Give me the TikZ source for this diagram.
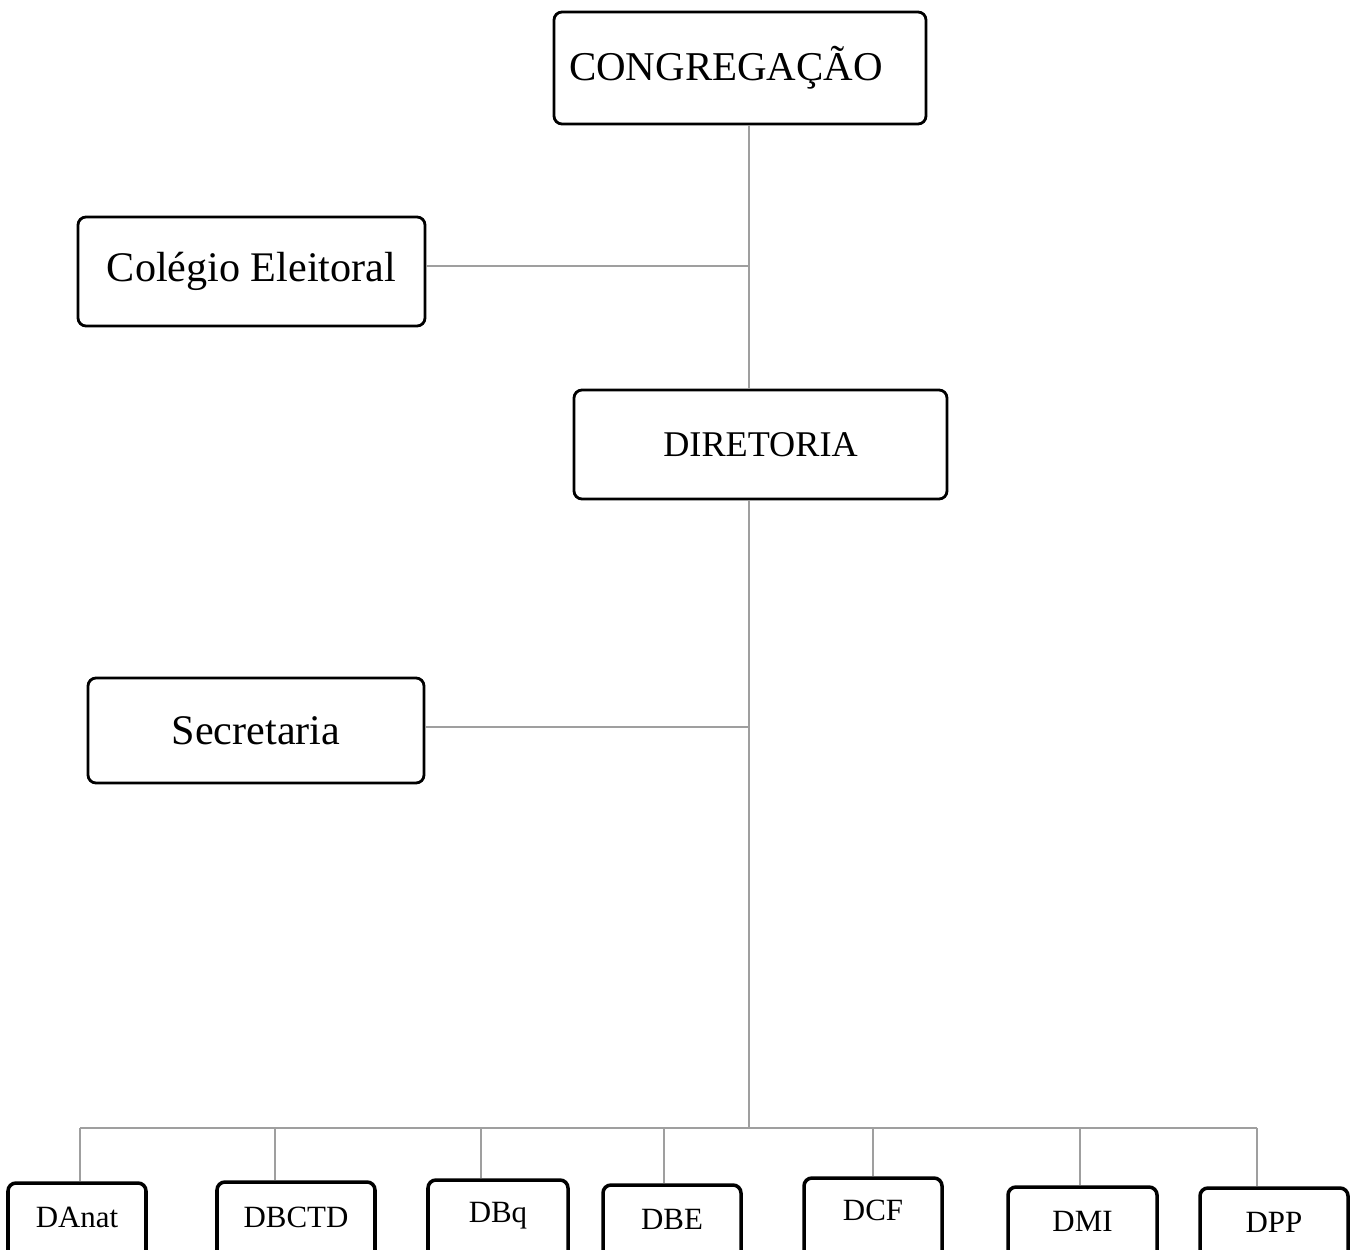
\documentclass[tikz,border=0pt]{standalone}
\usepackage{fontspec}
\setmainfont{Liberation Serif}
\usepackage{tikz}

\begin{document}
\begin{tikzpicture}[x=0.02cm, y=-0.02cm,
		box/.style={draw, line width=1.6pt, rounded corners=0.16cm, inner sep=0pt},
		link/.style={draw=gray!75, line width=1pt}]
	\useasboundingbox (0,0) rectangle (1362,1250);

	% upper boxes
	\node[box, minimum width=372*0.02cm, minimum height=112*0.02cm,
		font=\fontsize{23.3}{28}\selectfont] (Cong) at (740,68) {\kern-0.56cm CONGREGAÇÃO};
	\node[box, minimum width=347*0.02cm, minimum height=109*0.02cm,
		font=\fontsize{24}{28}\selectfont] (Col) at (251.5,271.5) {Colégio Eleitoral};
	\node[box, minimum width=373*0.02cm, minimum height=109*0.02cm,
		font=\fontsize{20.6}{24}\selectfont] (Dir) at (760.5,444.5) {DIRETORIA};
	\node[box, minimum width=336*0.02cm, minimum height=105*0.02cm,
		font=\fontsize{24}{28}\selectfont] (Sec) at (256,730.5) {Secretaria};

	% departments (cut by the page bottom)
	\foreach \name/\lbl/\xl/\xr/\top/\base in {
			Danat/DAnat/8/146/1183/1227,
			Dbctd/DBCTD/217/375/1182/1227,
			Dbq/DBq/428/568/1180/1222,
			Dbe/DBE/603/741/1185/1229,
			Dcf/DCF/804/942/1178/1220,
			Dmi/DMI/1008/1157/1187/1231,
			Dpp/DPP/1200/1348/1188/1232}
		\node[box, line width=2pt, anchor=base, minimum width=(\xr-\xl)*0.02cm,
			text height=(\base-\top)*0.02cm, text depth=1.2cm,
			font=\fontsize{17.6}{21}\selectfont] (\name) at ({(\xl+\xr)/2},\base) {\lbl};

	% junctions
	\coordinate (J1) at (749,266);
	\coordinate (J2) at (749,727);
	\coordinate (J3) at (749,1128);

	\draw[link] (Cong.south -| J1) -- (Dir.north -| J1);
	\draw[link] (Col.east |- J1) -- (J1);
	\draw[link] (Dir.south -| J2) -- (J3);
	\draw[link] (Sec.east |- J2) -- (J2);

	% bus
	\foreach \name/\xs in {Danat/80, Dbctd/275, Dbq/481, Dbe/664, Dcf/873, Dmi/1080, Dpp/1257}
		\draw[link] (\xs,1128) coordinate (S\name) -- (S\name |- \name.north);
	\draw[link] (SDanat) -- (SDpp);
\end{tikzpicture}
\end{document}
